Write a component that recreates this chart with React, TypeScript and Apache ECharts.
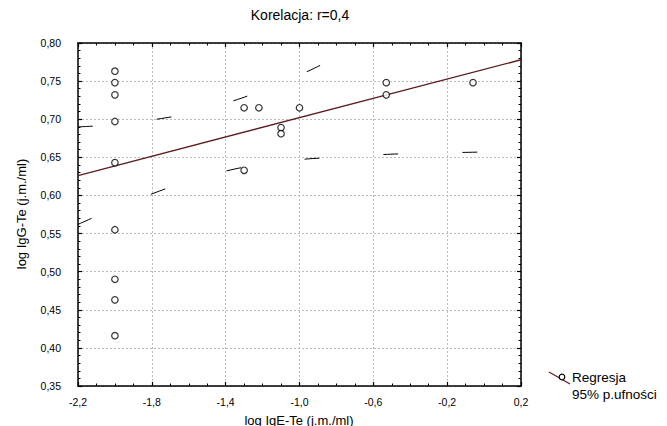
import React, { useEffect, useRef } from 'react';
import * as echarts from 'echarts';

// Observed points (log IgE-Te, log IgG-Te)
const pointsX = [-2.0, -2.0, -2.0, -2.0, -2.0, -2.0, -2.0, -2.0, -2.0, -1.3, -1.3, -1.22, -1.0, -1.1, -1.1, -0.53, -0.53, -0.06];
const pointsY = [0.763, 0.748, 0.732, 0.697, 0.643, 0.555, 0.49, 0.463, 0.416, 0.715, 0.633, 0.715, 0.715, 0.689, 0.681, 0.748, 0.732, 0.748];

// Regression line end points
const regressionX = [-2.2, 0.2];
const regressionY = [0.626, 0.778];

// 95% confidence bands
const bandX = [-2.2, -2.0, -1.8, -1.6, -1.4, -1.2, -1.0, -0.8, -0.6, -0.4, -0.2, 0.0, 0.2];
const bandLower = [0.562, 0.583, 0.602, 0.619, 0.632, 0.641, 0.647, 0.65, 0.653, 0.655, 0.656, 0.657, 0.658];
const bandUpper = [0.69, 0.693, 0.699, 0.708, 0.721, 0.738, 0.758, 0.781, 0.804, 0.828, 0.853, 0.878, 0.903];

// Axis ranges
const xRange = { min: -2.2, max: 0.2, interval: 0.4 };
const yRange = { min: 0.35, max: 0.8, interval: 0.05 };

const titleText = 'Korelacja: r=0,4';
const xName = 'log IgE-Te (j.m./ml)';
const yName = 'log IgG-Te (j.m./ml)';
const legendLabels = ['Regresja', '95% p.ufności'];

const narrowFont = "'Liberation Sans Narrow', 'Arial Narrow', 'Liberation Sans', Arial, sans-serif";
const mainFont = "'Liberation Sans', Arial, sans-serif";
const regColor = '#5c1f1f';

export default function App() {
  const ref = useRef<HTMLDivElement>(null);
  useEffect(() => {
    if (!ref.current) return;
    const chart = echarts.init(ref.current, undefined, { renderer: 'svg' });
    const zip = (xs: number[], ys: number[]) => xs.map((x, i) => [x, ys[i]]);
    const axisLine = { show: true, onZero: false, lineStyle: { color: '#000', width: 1.5 } };
    const tick = { show: true, inside: true, length: 4, lineStyle: { color: '#000', width: 1.2 } };
    const split = { show: true, lineStyle: { color: '#bcbcbc', width: 1, type: [2, 2] as any } };
    const baseX = {
      type: 'value' as const,
      min: xRange.min,
      max: xRange.max,
      interval: xRange.interval,
      axisLine,
      axisTick: tick,
      minorTick: { show: true, splitNumber: 4, length: 2.5, lineStyle: { color: '#000', width: 1 } },
    };
    const baseY = {
      type: 'value' as const,
      min: yRange.min,
      max: yRange.max,
      interval: yRange.interval,
      axisLine,
      axisTick: tick,
      minorTick: { show: true, splitNumber: 5, length: 2.5, lineStyle: { color: '#000', width: 1 } },
    };
    chart.setOption({
      animation: false,
      backgroundColor: '#fff',
      grid: { left: 78, right: 146, top: 43, bottom: 40, containLabel: false },
      xAxis: [
        {
          ...baseX,
          position: 'bottom',
          splitLine: split,
          axisLabel: {
            margin: 10,
            color: '#000',
            fontFamily: narrowFont,
            fontSize: 10.5,
            formatter: (v: number) => v.toFixed(1).replace('.', ','),
          },
        },
        { ...baseX, position: 'top', splitLine: { show: false }, axisLabel: { show: false } },
      ],
      yAxis: [
        {
          ...baseY,
          position: 'left',
          splitLine: split,
          axisLabel: {
            margin: 17,
            color: '#000',
            fontFamily: narrowFont,
            fontSize: 10.5,
            formatter: (v: number) => v.toFixed(2).replace('.', ','),
          },
        },
        { ...baseY, position: 'right', splitLine: { show: false }, axisLabel: { show: false } },
      ],
      series: [
        {
          type: 'line',
          data: zip(bandX, bandUpper),
          smooth: true,
          showSymbol: false,
          symbol: 'none',
          clip: true,
          lineStyle: { color: '#000', width: 1, type: [15, 64] as any },
          z: 3,
        },
        {
          type: 'line',
          data: zip(bandX, bandLower),
          smooth: true,
          showSymbol: false,
          symbol: 'none',
          clip: true,
          lineStyle: { color: '#000', width: 1, type: [15, 64] as any },
          z: 3,
        },
        {
          type: 'line',
          data: zip(regressionX, regressionY),
          showSymbol: false,
          symbol: 'none',
          lineStyle: { color: regColor, width: 1.4 },
          z: 4,
        },
        {
          type: 'scatter',
          data: zip(pointsX, pointsY),
          symbol: 'circle',
          symbolSize: 6.5,
          itemStyle: { color: '#fff', borderColor: '#000', borderWidth: 1.2 },
          z: 5,
        },
      ],
      graphic: [
        {
          type: 'text',
          x: 300,
          y: 15,
          style: { text: titleText, fontFamily: mainFont, fontSize: 14, fill: '#000', align: 'center', verticalAlign: 'middle' },
        },
        {
          type: 'text',
          x: 299,
          y: 420,
          style: { text: xName, fontFamily: mainFont, fontSize: 13, fill: '#000', align: 'center', verticalAlign: 'middle' },
        },
        {
          type: 'text',
          x: 21,
          y: 214,
          rotation: Math.PI / 2,
          style: { text: yName, fontFamily: mainFont, fontSize: 13, fill: '#000', align: 'center', verticalAlign: 'middle' },
        },
        {
          type: 'line',
          shape: { x1: 549, y1: 372, x2: 570, y2: 384 },
          style: { stroke: regColor, lineWidth: 1.3 },
        },
        {
          type: 'circle',
          shape: { cx: 562, cy: 377, r: 2.8 },
          style: { fill: '#fff', stroke: '#000', lineWidth: 1.2 },
        },
        {
          type: 'text',
          x: 572,
          y: 377,
          style: { text: legendLabels[0], fontFamily: mainFont, fontSize: 13.5, fill: '#000', align: 'left', verticalAlign: 'middle' },
        },
        {
          type: 'text',
          x: 572,
          y: 394,
          style: { text: legendLabels[1], fontFamily: mainFont, fontSize: 13.5, fill: '#000', align: 'left', verticalAlign: 'middle' },
        },
      ],
    });
    return () => chart.dispose();
  }, []);
  return <div ref={ref} style={{ position: 'fixed', left: 0, top: 0, width: 667, height: 426 }} />;
}
